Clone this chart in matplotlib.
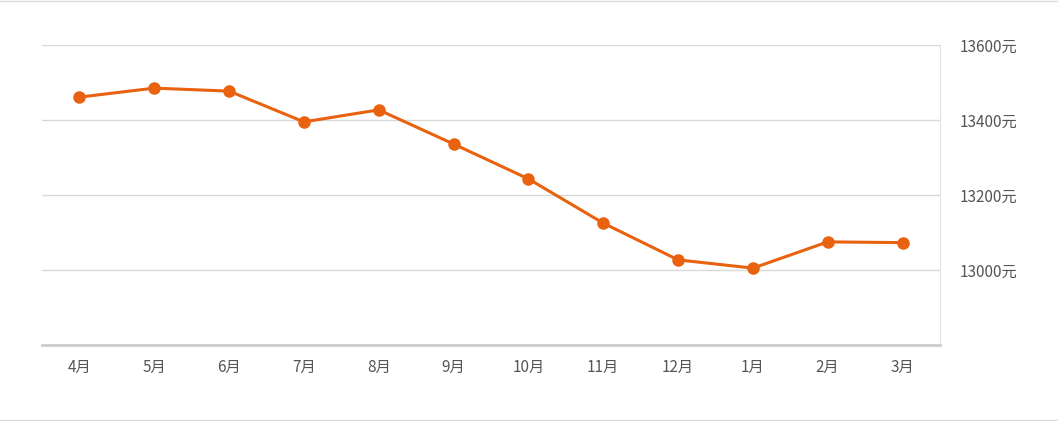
import matplotlib
matplotlib.use('Agg')
import matplotlib.pyplot as plt

plt.rcParams['font.family'] = ['Noto Sans CJK SC', 'DejaVu Sans']

months = ['4月', '5月', '6月', '7月', '8月', '9月', '10月', '11月', '12月', '1月', '2月', '3月']
prices = [13461, 13485, 13477, 13395, 13427, 13336, 13243, 13125, 13027, 13005, 13075, 13073]
yticks = [13000, 13200, 13400, 13600]

fig = plt.figure(figsize=(10.58, 4.21), dpi=100)
ax = fig.add_axes([42 / 1058, 76 / 421, 898 / 1058, 300 / 421])
x = list(range(len(months)))
ax.plot(x, prices, color='#E8620F', lw=2.2, marker='o', ms=8, zorder=3)
ax.set_xlim(-0.5, len(months) - 0.5)
ax.set_ylim(12800, 13600)
ax.set_xticks(x)
ax.set_xticklabels(months, fontsize=11, color='#555555')
ax.set_yticks(yticks)
ax.set_yticklabels([f'{v}元' for v in yticks], fontsize=11, color='#555555')
ax.yaxis.tick_right()
ax.tick_params(axis='y', length=0, pad=14)
ax.tick_params(axis='x', length=0, pad=10)
ax.grid(axis='y', color='#d9d9d9', lw=1)
for s in ['top', 'left']:
    ax.spines[s].set_visible(False)
ax.spines['right'].set_color('#e3e3e3')
ax.spines['bottom'].set_color('#cccccc')
ax.spines['bottom'].set_linewidth(2)

# thin page border lines at top and bottom
fig.add_artist(plt.Line2D([0, 1], [0.998, 0.998], color='#dddddd', lw=1))
fig.add_artist(plt.Line2D([0, 1], [0.002, 0.002], color='#dddddd', lw=1))

fig.savefig('out.png', dpi=100)
